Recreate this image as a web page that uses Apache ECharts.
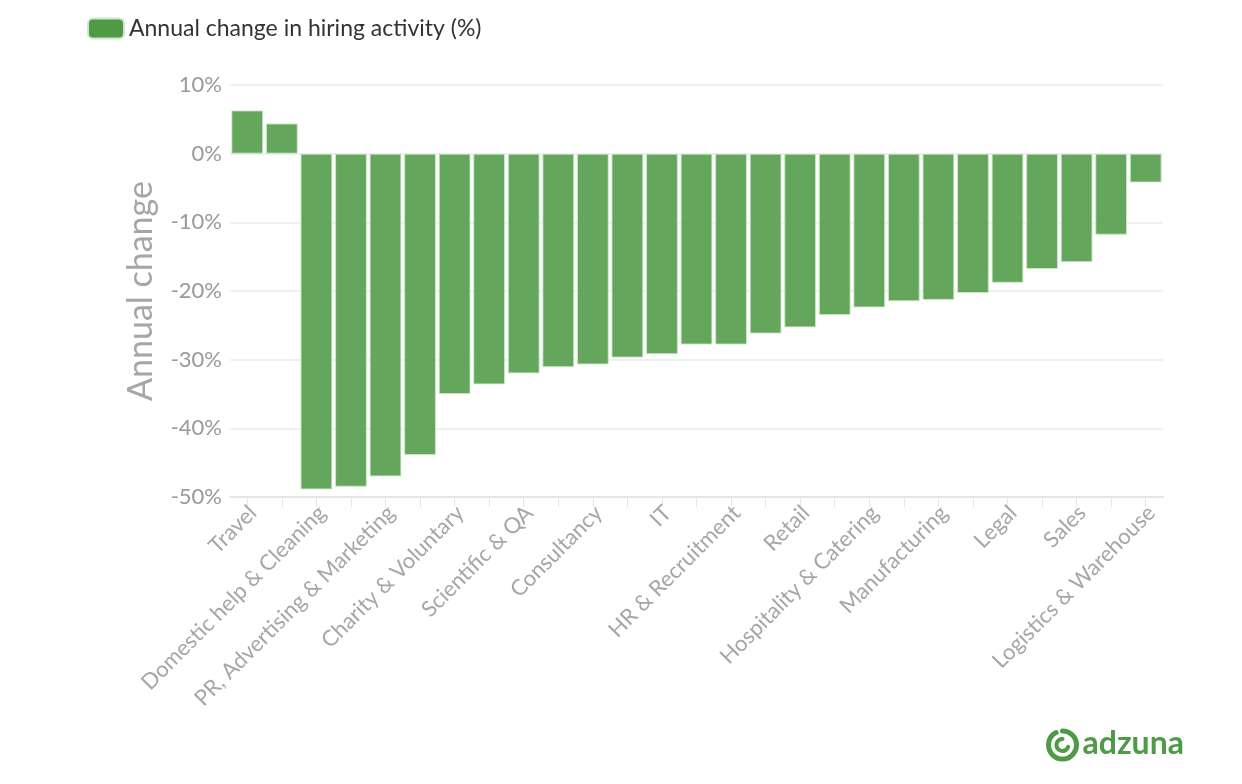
<!DOCTYPE html>
<html>
<head>
<meta charset="utf-8">
<script src="https://cdn.jsdelivr.net/npm/echarts@6/dist/echarts.min.js"></script>
<style>
    html, body { margin: 0; padding: 0; background: #fff; }
    #main { width: 1242px; height: 784px; }
</style>
</head>
<body>
<div id="main"></div>
<script>
    // categories (only every other one has a visible label)
    var categories = [
        'Travel', 'Healthcare & Nursing', 'Domestic help & Cleaning', 'Creative & Design',
        'PR, Advertising & Marketing', 'Part time', 'Charity & Voluntary', 'Graduate',
        'Scientific & QA', 'Accounting & Finance', 'Consultancy', 'Admin', 'IT',
        'Customer Services', 'HR & Recruitment', 'Property', 'Retail', 'Engineering',
        'Hospitality & Catering', 'Energy, Oil & Gas', 'Manufacturing', 'Trade & Construction',
        'Legal', 'Maintenance', 'Sales', 'Teaching', 'Logistics & Warehouse'
    ];
    var changeValues = [
        6.3, 4.4, -48.9, -48.5, -47.0, -43.9, -35.0, -33.6, -32.0, -31.1, -30.7, -29.7, -29.2,
        -27.8, -27.8, -26.2, -25.3, -23.5, -22.4, -21.5, -21.3, -20.3, -18.8, -16.8, -15.8, -11.8, -4.2
    ];
    var yTicks = [10, 0, -10, -20, -30, -40, -50];

    var green = '#4e9a45';
    var dom = document.getElementById('main');
    var myChart = echarts.init(dom);
    var option = {
        animation: false,
        textStyle: { fontFamily: 'Lato, sans-serif' },
        legend: {
            left: 82,
            top: 12,
            itemWidth: 36,
            itemHeight: 20,
            itemGap: 8,
            textStyle: { fontSize: 23, color: '#333', fontFamily: 'Lato, sans-serif' },
            data: [{ name: 'Annual change in hiring activity (%)', icon: 'roundRect', itemStyle: { color: green, opacity: 1 } }]
        },
        grid: {
            left: 230,
            right: 79,
            top: 85,
            bottom: 287
        },
        xAxis: {
            type: 'category',
            data: categories,
            position: 'bottom',
            axisLine: { onZero: false, lineStyle: { color: '#e6e6e6', width: 2 } },
            axisTick: { show: true, alignWithLabel: true, interval: 0, length: 10, lineStyle: { color: '#e6e6e6', width: 1 } },
            axisLabel: {
                interval: 1,
                rotate: 45,
                fontSize: 22,
                color: '#a6a6a6',
                margin: 18,
                padding: [0, -8, 0, 0]
            }
        },
        yAxis: {
            type: 'value',
            min: yTicks[yTicks.length - 1],
            max: yTicks[0],
            interval: 10,
            name: 'Annual change',
            nameLocation: 'middle',
            nameGap: 72,
            nameTextStyle: { fontSize: 34, color: '#a6a6a6' },
            axisLine: { show: false },
            axisTick: { show: false },
            splitLine: { lineStyle: { color: '#ebebeb', width: 1.5 } },
            axisLabel: {
                fontSize: 22,
                color: '#999',
                margin: 8,
                formatter: function (v) { return v + '%'; }
            }
        },
        series: [{
            name: 'Annual change in hiring activity (%)',
            type: 'bar',
            data: changeValues,
            barCategoryGap: '8%',
            itemStyle: {
                color: green,
                opacity: 0.88,
                borderColor: '#cfe8cb',
                borderWidth: 1
            }
        }],
        graphic: [{
            type: 'group',
            left: 1046,
            top: 728,
            children: [{
                type: 'arc',
                shape: { cx: 17, cy: 18, r: 14, startAngle: -Math.PI / 2, endAngle: Math.PI * 1.35 },
                style: { stroke: green, fill: null, lineWidth: 5, lineCap: 'round' }
            }, {
                type: 'arc',
                shape: { cx: 17, cy: 18, r: 6, startAngle: Math.PI * 0.1, endAngle: Math.PI * 1.5 },
                style: { stroke: green, fill: null, lineWidth: 4, lineCap: 'round' }
            }, {
                type: 'text',
                x: 37,
                y: 1,
                style: { text: 'adzuna', fill: green, font: 'bold 32px Lato, sans-serif' }
            }]
        }]
    };
    if (option && typeof option === "object") {
        myChart.setOption(option, true);
    }
</script>
</body>
</html>
